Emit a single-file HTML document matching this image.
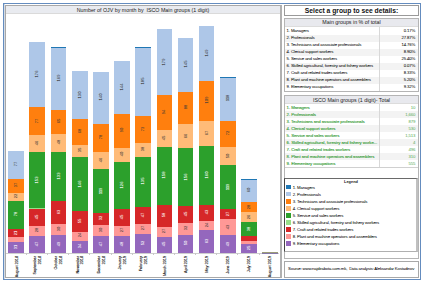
<!DOCTYPE html>
<html><head><meta charset="utf-8"><style>
html,body{margin:0;padding:0;background:#fff;width:424px;height:283px;overflow:hidden;font-family:"Liberation Sans",sans-serif;}
.a{position:absolute;box-sizing:border-box;}
.s{position:absolute;}
.bl{position:absolute;font-size:4.1px;line-height:1;-webkit-text-stroke:0.05px currentColor;transform:translate(-50%,-50%) rotate(-90deg);white-space:nowrap;}
.xl{position:absolute;top:255.8px;font-size:3.8px;line-height:1;white-space:nowrap;color:#111;-webkit-text-stroke:0.1px #111;transform-origin:0 0;transform:rotate(-90deg) translate(-100%,-50%);}
.tk{position:absolute;top:253.2px;width:0.6px;height:2.2px;background:#c8c8c8;}
.row{position:absolute;left:285px;width:133px;height:7.07px;}
.c1{position:absolute;left:1.6px;top:1.8px;letter-spacing:-0.16px;font-size:4.3px;line-height:1;white-space:nowrap;color:#000;-webkit-text-stroke:0.02px #000;}
.c2{position:absolute;right:2.8px;top:1.8px;letter-spacing:-0.16px;font-size:4.3px;line-height:1;white-space:nowrap;color:#000;-webkit-text-stroke:0.02px #000;}
.g{color:#3a9e3a;font-weight:normal;-webkit-text-stroke:0.12px #3a9e3a;font-size:4.3px;letter-spacing:-0.08px;}
.g2{color:#55aa55;-webkit-text-stroke:0;}
.lsq{position:absolute;left:286px;width:4.8px;height:4.9px;}
.lt{position:absolute;left:292.7px;letter-spacing:-0.16px;font-size:4.3px;line-height:7px;white-space:nowrap;color:#000;-webkit-text-stroke:0.02px #000;}
</style></head><body>
<!-- outer blue frame -->
<div class="a" style="left:3px;top:3px;width:418px;height:277px;border:1px solid #648cbf;"></div>
<!-- left chart panel -->
<div class="s" style="left:4px;top:4px;width:1px;height:275px;background:#d4dbe4;"></div>
<div class="a" style="left:5px;top:5px;width:277px;height:273px;border:1px solid #a8a8a8;border-right:2px solid #b0b0b0;"></div>
<div class="a" style="left:6px;top:6px;width:274px;height:8px;background:#e9ebf0;border-bottom:1px solid #dadada;"></div>
<div class="a" style="left:6px;top:6.8px;width:274px;font-size:5.3px;line-height:7px;text-align:center;color:#1a1a1a;">Number of OJV by month by&nbsp; ISCO Main groups (1 digit)</div>
<div class="s" style="left:6px;top:253.2px;width:273px;height:0.6px;background:#cfcfcf;"></div>
<div class="s" style="left:8.00px;top:150.60px;width:16.00px;height:102.60px;background:#aec7e8"></div>
<div class="bl" style="left:16.20px;top:164.15px;color:#3a3a3a">77</div>
<div class="s" style="left:8.00px;top:178.90px;width:16.00px;height:74.30px;background:#ff7f0e"></div>
<div class="bl" style="left:16.20px;top:185.10px;color:#3a3a3a">37</div>
<div class="s" style="left:8.00px;top:192.50px;width:16.00px;height:60.70px;background:#ffbb78"></div>
<div class="bl" style="left:16.20px;top:196.00px;color:#3a3a3a">22</div>
<div class="s" style="left:8.00px;top:200.70px;width:16.00px;height:52.50px;background:#2ca02c"></div>
<div class="bl" style="left:16.20px;top:214.45px;color:#fff">78</div>
<div class="s" style="left:8.00px;top:229.40px;width:16.00px;height:23.80px;background:#d62728"></div>
<div class="bl" style="left:16.20px;top:232.60px;color:#fff">21</div>
<div class="s" style="left:8.00px;top:237.00px;width:16.00px;height:16.20px;background:#ff9896"></div>
<div class="s" style="left:8.00px;top:241.80px;width:16.00px;height:11.40px;background:#9467bd"></div>
<div class="bl" style="left:16.20px;top:246.90px;color:#fff">31</div>
<div class="s" style="left:29.20px;top:42.00px;width:15.80px;height:211.20px;background:#aec7e8"></div>
<div class="bl" style="left:37.30px;top:73.85px;color:#3a3a3a">176</div>
<div class="s" style="left:29.20px;top:106.90px;width:15.80px;height:146.30px;background:#ff7f0e"></div>
<div class="bl" style="left:37.30px;top:120.55px;color:#3a3a3a">77</div>
<div class="s" style="left:29.20px;top:135.40px;width:15.80px;height:117.80px;background:#ffbb78"></div>
<div class="bl" style="left:37.30px;top:143.25px;color:#3a3a3a">46</div>
<div class="s" style="left:29.20px;top:152.30px;width:15.80px;height:100.90px;background:#2ca02c"></div>
<div class="bl" style="left:37.30px;top:179.90px;color:#fff">153</div>
<div class="s" style="left:29.20px;top:208.70px;width:15.80px;height:44.50px;background:#d62728"></div>
<div class="bl" style="left:37.30px;top:216.50px;color:#fff">45</div>
<div class="s" style="left:29.20px;top:225.50px;width:15.80px;height:27.70px;background:#ff9896"></div>
<div class="bl" style="left:37.30px;top:230.10px;color:#3a3a3a">28</div>
<div class="s" style="left:29.20px;top:235.90px;width:15.80px;height:17.30px;background:#9467bd"></div>
<div class="bl" style="left:37.30px;top:243.95px;color:#fff">47</div>
<div class="s" style="left:50.50px;top:47.40px;width:15.60px;height:205.80px;background:#aec7e8"></div>
<div class="bl" style="left:58.50px;top:78.05px;color:#3a3a3a">169</div>
<div class="s" style="left:50.50px;top:109.90px;width:15.60px;height:143.30px;background:#ff7f0e"></div>
<div class="bl" style="left:58.50px;top:121.30px;color:#3a3a3a">65</div>
<div class="s" style="left:50.50px;top:133.90px;width:15.60px;height:119.30px;background:#ffbb78"></div>
<div class="bl" style="left:58.50px;top:142.20px;color:#3a3a3a">48</div>
<div class="s" style="left:50.50px;top:151.70px;width:15.60px;height:101.50px;background:#2ca02c"></div>
<div class="bl" style="left:58.50px;top:175.60px;color:#fff">133</div>
<div class="s" style="left:50.50px;top:200.70px;width:15.60px;height:52.50px;background:#d62728"></div>
<div class="bl" style="left:58.50px;top:211.80px;color:#fff">63</div>
<div class="s" style="left:50.50px;top:224.10px;width:15.60px;height:29.10px;background:#ff9896"></div>
<div class="bl" style="left:58.50px;top:229.05px;color:#3a3a3a">30</div>
<div class="s" style="left:50.50px;top:235.20px;width:15.60px;height:18.00px;background:#9467bd"></div>
<div class="bl" style="left:58.50px;top:243.60px;color:#fff">49</div>
<div class="s" style="left:50.50px;top:46.90px;width:15.60px;height:1px;background:#1f77b4"></div>
<div class="s" style="left:71.70px;top:71.40px;width:16.10px;height:181.80px;background:#aec7e8"></div>
<div class="bl" style="left:79.95px;top:94.75px;color:#3a3a3a">130</div>
<div class="s" style="left:71.70px;top:119.30px;width:16.10px;height:133.90px;background:#ff7f0e"></div>
<div class="bl" style="left:79.95px;top:131.30px;color:#3a3a3a">68</div>
<div class="s" style="left:71.70px;top:144.50px;width:16.10px;height:108.70px;background:#ffbb78"></div>
<div class="bl" style="left:79.95px;top:150.35px;color:#3a3a3a">35</div>
<div class="s" style="left:71.70px;top:157.40px;width:16.10px;height:95.80px;background:#2ca02c"></div>
<div class="bl" style="left:79.95px;top:183.75px;color:#fff">146</div>
<div class="s" style="left:71.70px;top:211.30px;width:16.10px;height:41.90px;background:#d62728"></div>
<div class="bl" style="left:79.95px;top:220.80px;color:#fff">55</div>
<div class="s" style="left:71.70px;top:231.50px;width:16.10px;height:21.70px;background:#ff9896"></div>
<div class="bl" style="left:79.95px;top:235.40px;color:#3a3a3a">24</div>
<div class="s" style="left:71.70px;top:240.50px;width:16.10px;height:12.70px;background:#9467bd"></div>
<div class="bl" style="left:79.95px;top:246.25px;color:#fff">34</div>
<div class="s" style="left:92.70px;top:72.10px;width:16.30px;height:181.10px;background:#aec7e8"></div>
<div class="bl" style="left:101.05px;top:97.30px;color:#3a3a3a">140</div>
<div class="s" style="left:92.70px;top:123.70px;width:16.30px;height:129.50px;background:#ff7f0e"></div>
<div class="bl" style="left:101.05px;top:137.45px;color:#3a3a3a">78</div>
<div class="s" style="left:92.70px;top:152.40px;width:16.30px;height:100.80px;background:#ffbb78"></div>
<div class="bl" style="left:101.05px;top:160.30px;color:#3a3a3a">46</div>
<div class="s" style="left:92.70px;top:169.40px;width:16.30px;height:83.80px;background:#2ca02c"></div>
<div class="bl" style="left:101.05px;top:190.70px;color:#fff">119</div>
<div class="s" style="left:92.70px;top:213.20px;width:16.30px;height:40.00px;background:#d62728"></div>
<div class="bl" style="left:101.05px;top:218.45px;color:#fff">32</div>
<div class="s" style="left:92.70px;top:224.90px;width:16.30px;height:28.30px;background:#ff9896"></div>
<div class="bl" style="left:101.05px;top:229.85px;color:#3a3a3a">30</div>
<div class="s" style="left:92.70px;top:236.00px;width:16.30px;height:17.20px;background:#9467bd"></div>
<div class="bl" style="left:101.05px;top:244.00px;color:#fff">47</div>
<div class="s" style="left:114.00px;top:61.00px;width:16.00px;height:192.20px;background:#aec7e8"></div>
<div class="bl" style="left:122.20px;top:87.05px;color:#3a3a3a">144</div>
<div class="s" style="left:114.00px;top:114.30px;width:16.00px;height:138.90px;background:#ff7f0e"></div>
<div class="bl" style="left:122.20px;top:130.40px;color:#3a3a3a">90</div>
<div class="s" style="left:114.00px;top:147.70px;width:16.00px;height:105.50px;background:#ffbb78"></div>
<div class="bl" style="left:122.20px;top:154.40px;color:#3a3a3a">40</div>
<div class="s" style="left:114.00px;top:162.30px;width:16.00px;height:90.90px;background:#2ca02c"></div>
<div class="bl" style="left:122.20px;top:185.05px;color:#fff">126</div>
<div class="s" style="left:114.00px;top:209.00px;width:16.00px;height:44.20px;background:#d62728"></div>
<div class="bl" style="left:122.20px;top:216.70px;color:#fff">45</div>
<div class="s" style="left:114.00px;top:225.60px;width:16.00px;height:27.60px;background:#ff9896"></div>
<div class="bl" style="left:122.20px;top:230.00px;color:#3a3a3a">27</div>
<div class="s" style="left:114.00px;top:235.60px;width:16.00px;height:17.60px;background:#9467bd"></div>
<div class="bl" style="left:122.20px;top:243.80px;color:#fff">48</div>
<div class="s" style="left:135.40px;top:47.60px;width:15.60px;height:205.60px;background:#aec7e8"></div>
<div class="bl" style="left:143.40px;top:81.15px;color:#3a3a3a">185</div>
<div class="s" style="left:135.40px;top:115.90px;width:15.60px;height:137.30px;background:#ff7f0e"></div>
<div class="bl" style="left:143.40px;top:128.75px;color:#3a3a3a">73</div>
<div class="s" style="left:135.40px;top:142.80px;width:15.60px;height:110.40px;background:#ffbb78"></div>
<div class="bl" style="left:143.40px;top:149.20px;color:#3a3a3a">38</div>
<div class="s" style="left:135.40px;top:156.80px;width:15.60px;height:96.40px;background:#2ca02c"></div>
<div class="bl" style="left:143.40px;top:181.15px;color:#fff">135</div>
<div class="s" style="left:135.40px;top:206.70px;width:15.60px;height:46.50px;background:#d62728"></div>
<div class="bl" style="left:143.40px;top:214.75px;color:#fff">47</div>
<div class="s" style="left:135.40px;top:224.00px;width:15.60px;height:29.20px;background:#ff9896"></div>
<div class="bl" style="left:143.40px;top:228.45px;color:#3a3a3a">27</div>
<div class="s" style="left:135.40px;top:234.10px;width:15.60px;height:19.10px;background:#9467bd"></div>
<div class="bl" style="left:143.40px;top:243.05px;color:#fff">52</div>
<div class="s" style="left:135.40px;top:47.10px;width:15.60px;height:1px;background:#1f77b4"></div>
<div class="s" style="left:156.50px;top:29.30px;width:15.50px;height:223.90px;background:#aec7e8"></div>
<div class="bl" style="left:164.45px;top:61.70px;color:#3a3a3a">179</div>
<div class="s" style="left:156.50px;top:95.30px;width:15.50px;height:157.90px;background:#ff7f0e"></div>
<div class="bl" style="left:164.45px;top:112.15px;color:#3a3a3a">94</div>
<div class="s" style="left:156.50px;top:130.20px;width:15.50px;height:123.00px;background:#ffbb78"></div>
<div class="bl" style="left:164.45px;top:137.85px;color:#3a3a3a">45</div>
<div class="s" style="left:156.50px;top:146.70px;width:15.50px;height:106.50px;background:#2ca02c"></div>
<div class="bl" style="left:164.45px;top:175.35px;color:#fff">158</div>
<div class="s" style="left:156.50px;top:205.20px;width:15.50px;height:48.00px;background:#d62728"></div>
<div class="bl" style="left:164.45px;top:215.25px;color:#fff">58</div>
<div class="s" style="left:156.50px;top:226.50px;width:15.50px;height:26.70px;background:#ff9896"></div>
<div class="bl" style="left:164.45px;top:230.95px;color:#3a3a3a">27</div>
<div class="s" style="left:156.50px;top:236.60px;width:15.50px;height:16.60px;background:#9467bd"></div>
<div class="bl" style="left:164.45px;top:244.30px;color:#fff">45</div>
<div class="s" style="left:177.50px;top:38.00px;width:15.80px;height:215.20px;background:#aec7e8"></div>
<div class="bl" style="left:185.60px;top:64.20px;color:#3a3a3a">145</div>
<div class="s" style="left:177.50px;top:91.60px;width:15.80px;height:161.60px;background:#ff7f0e"></div>
<div class="bl" style="left:185.60px;top:107.20px;color:#3a3a3a">88</div>
<div class="s" style="left:177.50px;top:124.00px;width:15.80px;height:129.20px;background:#ffbb78"></div>
<div class="bl" style="left:185.60px;top:135.55px;color:#3a3a3a">66</div>
<div class="s" style="left:177.50px;top:148.30px;width:15.80px;height:104.90px;background:#2ca02c"></div>
<div class="bl" style="left:185.60px;top:176.60px;color:#fff">156</div>
<div class="s" style="left:177.50px;top:206.10px;width:15.80px;height:47.10px;background:#d62728"></div>
<div class="bl" style="left:185.60px;top:213.85px;color:#fff">45</div>
<div class="s" style="left:177.50px;top:222.80px;width:15.80px;height:30.40px;background:#ff9896"></div>
<div class="bl" style="left:185.60px;top:228.10px;color:#3a3a3a">32</div>
<div class="s" style="left:177.50px;top:234.60px;width:15.80px;height:18.60px;background:#9467bd"></div>
<div class="bl" style="left:185.60px;top:243.30px;color:#fff">50</div>
<div class="s" style="left:198.70px;top:25.60px;width:15.60px;height:227.60px;background:#aec7e8"></div>
<div class="bl" style="left:206.70px;top:52.55px;color:#3a3a3a">149</div>
<div class="s" style="left:198.70px;top:80.70px;width:15.60px;height:172.50px;background:#ff7f0e"></div>
<div class="bl" style="left:206.70px;top:100.25px;color:#3a3a3a">109</div>
<div class="s" style="left:198.70px;top:121.00px;width:15.60px;height:132.20px;background:#ffbb78"></div>
<div class="bl" style="left:206.70px;top:132.75px;color:#3a3a3a">67</div>
<div class="s" style="left:198.70px;top:145.70px;width:15.60px;height:107.50px;background:#2ca02c"></div>
<div class="bl" style="left:206.70px;top:174.75px;color:#fff">160</div>
<div class="s" style="left:198.70px;top:205.00px;width:15.60px;height:48.20px;background:#d62728"></div>
<div class="bl" style="left:206.70px;top:212.35px;color:#fff">43</div>
<div class="s" style="left:198.70px;top:220.90px;width:15.60px;height:32.30px;background:#ff9896"></div>
<div class="bl" style="left:206.70px;top:224.75px;color:#3a3a3a">24</div>
<div class="s" style="left:198.70px;top:229.80px;width:15.60px;height:23.40px;background:#9467bd"></div>
<div class="bl" style="left:206.70px;top:240.90px;color:#fff">63</div>
<div class="s" style="left:219.70px;top:77.00px;width:16.10px;height:176.20px;background:#aec7e8"></div>
<div class="bl" style="left:227.95px;top:98.15px;color:#3a3a3a">118</div>
<div class="s" style="left:219.70px;top:120.50px;width:16.10px;height:132.70px;background:#ff7f0e"></div>
<div class="bl" style="left:227.95px;top:133.15px;color:#3a3a3a">72</div>
<div class="s" style="left:219.70px;top:147.00px;width:16.10px;height:106.20px;background:#ffbb78"></div>
<div class="bl" style="left:227.95px;top:155.60px;color:#3a3a3a">50</div>
<div class="s" style="left:219.70px;top:165.40px;width:16.10px;height:87.80px;background:#2ca02c"></div>
<div class="bl" style="left:227.95px;top:186.75px;color:#fff">119</div>
<div class="s" style="left:219.70px;top:209.30px;width:16.10px;height:43.90px;background:#d62728"></div>
<div class="bl" style="left:227.95px;top:213.75px;color:#fff">27</div>
<div class="s" style="left:219.70px;top:219.40px;width:16.10px;height:33.80px;background:#ff9896"></div>
<div class="bl" style="left:227.95px;top:226.70px;color:#3a3a3a">43</div>
<div class="s" style="left:219.70px;top:235.20px;width:16.10px;height:18.00px;background:#9467bd"></div>
<div class="bl" style="left:227.95px;top:243.60px;color:#fff">49</div>
<div class="s" style="left:219.70px;top:76.50px;width:16.10px;height:1px;background:#1f77b4"></div>
<div class="s" style="left:241.30px;top:179.80px;width:15.50px;height:73.40px;background:#aec7e8"></div>
<div class="bl" style="left:249.25px;top:190.30px;color:#3a3a3a">60</div>
<div class="s" style="left:241.30px;top:202.00px;width:15.50px;height:51.20px;background:#ff7f0e"></div>
<div class="bl" style="left:249.25px;top:206.60px;color:#3a3a3a">28</div>
<div class="s" style="left:241.30px;top:212.40px;width:15.50px;height:40.80px;background:#ffbb78"></div>
<div class="bl" style="left:249.25px;top:216.60px;color:#3a3a3a">26</div>
<div class="s" style="left:241.30px;top:222.00px;width:15.50px;height:31.20px;background:#2ca02c"></div>
<div class="bl" style="left:249.25px;top:228.50px;color:#fff">38</div>
<div class="s" style="left:241.30px;top:236.20px;width:15.50px;height:17.00px;background:#d62728"></div>
<div class="s" style="left:241.30px;top:241.00px;width:15.50px;height:12.20px;background:#ff9896"></div>
<div class="s" style="left:241.30px;top:243.90px;width:15.50px;height:9.30px;background:#9467bd"></div>
<div class="bl" style="left:249.25px;top:247.95px;color:#fff">25</div>
<div class="s" style="left:241.30px;top:179.30px;width:15.50px;height:1px;background:#1f77b4"></div>
<div class="s" style="left:29.2px;top:208.2px;width:15.8px;height:0.5px;background:#98df8a;"></div>
<div class="s" style="left:262px;top:252px;width:16.2px;height:1px;background:#9c9c78;"></div>
<div class="s" style="left:262px;top:253px;width:16.2px;height:0.8px;background:#8478a8;"></div>
<div class="xl" style="left:17.50px">August 2018</div>
<div class="xl" style="left:36.25px">September</div>
<div class="xl" style="left:41.15px">2018</div>
<div class="tk" style="left:25.95px"></div>
<div class="xl" style="left:57.40px">October</div>
<div class="xl" style="left:62.30px">2018</div>
<div class="tk" style="left:47.10px"></div>
<div class="xl" style="left:78.55px">November</div>
<div class="xl" style="left:83.45px">2018</div>
<div class="tk" style="left:68.25px"></div>
<div class="xl" style="left:99.70px">December</div>
<div class="xl" style="left:104.60px">2018</div>
<div class="tk" style="left:89.40px"></div>
<div class="xl" style="left:120.85px">January</div>
<div class="xl" style="left:125.75px">2019</div>
<div class="tk" style="left:110.55px"></div>
<div class="xl" style="left:142.00px">February</div>
<div class="xl" style="left:146.90px">2019</div>
<div class="tk" style="left:131.70px"></div>
<div class="xl" style="left:165.55px">March 2019</div>
<div class="tk" style="left:152.85px"></div>
<div class="xl" style="left:186.70px">April 2019</div>
<div class="tk" style="left:174.00px"></div>
<div class="xl" style="left:207.85px">May 2019</div>
<div class="tk" style="left:195.15px"></div>
<div class="xl" style="left:229.00px">June 2019</div>
<div class="tk" style="left:216.30px"></div>
<div class="xl" style="left:250.15px">July 2019</div>
<div class="tk" style="left:237.45px"></div>
<div class="xl" style="left:271.30px">August 2019</div>
<div class="tk" style="left:258.60px"></div>
<!-- right side -->
<div class="a" style="left:284px;top:5px;width:135px;height:11px;border:1px solid #9a9a9a;"></div>
<div class="a" style="left:284px;top:5.9px;width:135px;font-size:6.75px;line-height:10px;font-weight:bold;text-align:center;color:#111;">Select a group to see details:</div>
<!-- table1 -->
<div class="a" style="left:284px;top:18px;width:135px;height:74px;border:1px solid #b4b4b4;"></div>
<div class="a" style="left:285px;top:19px;width:133px;height:8px;background:#e8e9ee;border-bottom:1px solid #dcdcdc;"></div>
<div class="a" style="left:285px;top:19.3px;width:133px;font-size:5.3px;line-height:7px;text-align:center;color:#1a1a1a;">Main groups in % of total</div>
<div class="row" style="top:27.80px;"><span class="c1" style="top:0.9px">1. Managers</span><span class="c2" style="top:0.9px">0.17%</span></div><div class="row" style="top:34.87px;background:#f3f3f3;"><span class="c1" style="top:0.9px">2. Professionals</span><span class="c2" style="top:0.9px">27.87%</span></div><div class="row" style="top:41.94px;"><span class="c1" style="top:0.9px">3. Technicians and associate professionals</span><span class="c2" style="top:0.9px">14.76%</span></div><div class="row" style="top:49.01px;background:#f3f3f3;"><span class="c1" style="top:0.9px">4. Clerical support workers</span><span class="c2" style="top:0.9px">8.90%</span></div><div class="row" style="top:56.08px;"><span class="c1" style="top:0.9px">5. Service and sales workers</span><span class="c2" style="top:0.9px">25.40%</span></div><div class="row" style="top:63.15px;background:#f3f3f3;"><span class="c1" style="top:0.9px">6. Skilled agricultural, forestry and fishery workers</span><span class="c2" style="top:0.9px">0.07%</span></div><div class="row" style="top:70.22px;"><span class="c1" style="top:0.9px">7. Craft and related trades workers</span><span class="c2" style="top:0.9px">8.33%</span></div><div class="row" style="top:77.29px;background:#f3f3f3;"><span class="c1" style="top:0.9px">8. Plant and machine operators and assemblers</span><span class="c2" style="top:0.9px">5.20%</span></div><div class="row" style="top:84.36px;"><span class="c1" style="top:0.9px">9. Elementary occupations</span><span class="c2" style="top:0.9px">9.32%</span></div>
<div class="s" style="left:379.2px;top:27px;width:0.7px;height:63.5px;background:#d8d8d8;"></div>
<!-- table2 container -->
<div class="a" style="left:284px;top:95px;width:135px;height:164px;border:1px solid #b4b4b4;"></div>
<div class="a" style="left:285px;top:96px;width:133px;height:8px;background:#e8e9ee;border-bottom:1px solid #dcdcdc;"></div>
<div class="a" style="left:285px;top:96.6px;width:133px;font-size:5.3px;line-height:7px;text-align:center;color:#1a1a1a;">ISCO Main groups (1 digit)- Total</div>
<div class="row" style="top:103.90px;"><span class="c1 g">1. Managers</span><span class="c2 g2">10</span></div><div class="row" style="top:110.95px;background:#f3f3f3;"><span class="c1 g">2. Professionals</span><span class="c2 g2">1,660</span></div><div class="row" style="top:118.00px;"><span class="c1 g">3. Technicians and associate professionals</span><span class="c2 g2">879</span></div><div class="row" style="top:125.05px;background:#f3f3f3;"><span class="c1 g">4. Clerical support workers</span><span class="c2 g2">530</span></div><div class="row" style="top:132.10px;"><span class="c1 g">5. Service and sales workers</span><span class="c2 g2">1,513</span></div><div class="row" style="top:139.15px;background:#f3f3f3;"><span class="c1 g">6. Skilled agricultural, forestry and fishery worke...</span><span class="c2 g2">4</span></div><div class="row" style="top:146.20px;"><span class="c1 g">7. Craft and related trades workers</span><span class="c2 g2">496</span></div><div class="row" style="top:153.25px;background:#f3f3f3;"><span class="c1 g">8. Plant and machine operators and assemblers</span><span class="c2 g2">310</span></div><div class="row" style="top:160.30px;"><span class="c1 g">9. Elementary occupations</span><span class="c2 g2">555</span></div>
<div class="s" style="left:379.2px;top:104px;width:0.7px;height:63.5px;background:#d8d8d8;"></div>
<div class="s" style="left:285px;top:167.3px;width:132.5px;height:0.7px;background:#d0d0d0;"></div>
<!-- legend -->
<div class="a" style="left:284.3px;top:178px;width:133.5px;height:73.5px;border:1px solid #b0b0b0;border-left:1px solid #444;border-top:1px solid #6a6a6a;border-right:2px solid #c0c0c0;"></div>
<div class="a" style="left:285px;top:178.6px;width:132px;font-size:3.9px;line-height:6px;text-align:center;font-weight:bold;color:#222;">Legend</div>
<div class="lsq" style="top:184.50px;background:#1f77b4"></div><div class="lt" style="top:183.50px">1. Managers</div><div class="lsq" style="top:191.57px;background:#aec7e8"></div><div class="lt" style="top:190.57px">2. Professionals</div><div class="lsq" style="top:198.64px;background:#ff7f0e"></div><div class="lt" style="top:197.64px">3. Technicians and associate professionals</div><div class="lsq" style="top:205.71px;background:#ffbb78"></div><div class="lt" style="top:204.71px">4. Clerical support workers</div><div class="lsq" style="top:212.78px;background:#2ca02c"></div><div class="lt" style="top:211.78px">5. Service and sales workers</div><div class="lsq" style="top:219.85px;background:#98df8a"></div><div class="lt" style="top:218.85px">6. Skilled agricultural, forestry and fishery workers</div><div class="lsq" style="top:226.92px;background:#d62728"></div><div class="lt" style="top:225.92px">7. Craft and related trades workers</div><div class="lsq" style="top:233.99px;background:#ff9896"></div><div class="lt" style="top:232.99px">8. Plant and machine operators and assemblers</div><div class="lsq" style="top:241.06px;background:#9467bd"></div><div class="lt" style="top:240.06px">9. Elementary occupations</div>
<!-- source -->
<div class="a" style="left:284px;top:261px;width:135px;height:16.5px;border:1px solid #a8a8a8;"></div>
<div class="a" style="left:288.1px;top:266.3px;letter-spacing:-0.19px;font-size:4.3px;line-height:6px;white-space:nowrap;color:#000;-webkit-text-stroke:0.02px #000;">Source: www.najdirabota.com.mk,&nbsp; Data analysis: Aleksandar Kostadinov</div>
</body></html>
